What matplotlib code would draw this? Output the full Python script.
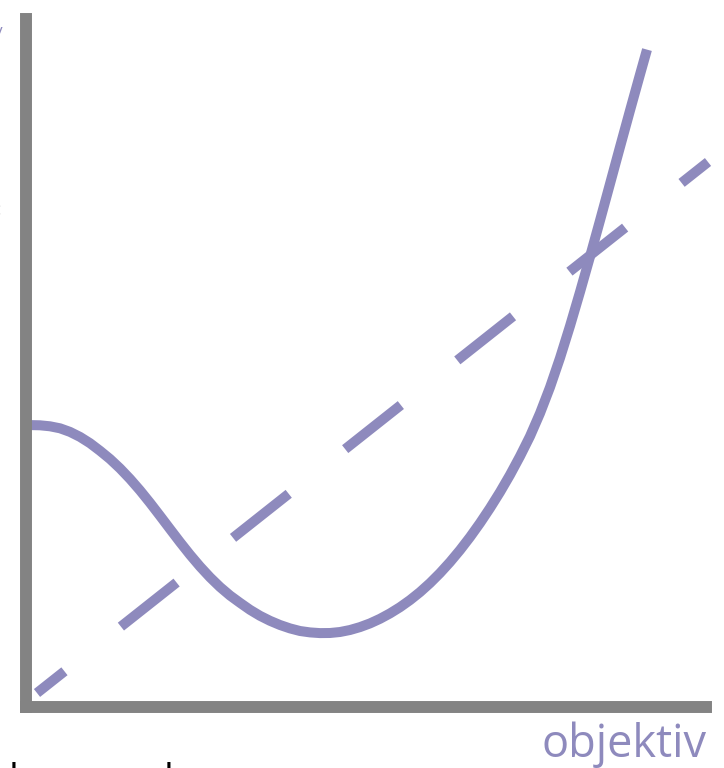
import matplotlib
matplotlib.use("Agg")
import matplotlib.pyplot as plt

# ---- data (arbitrary units) ----
curve_x = [0.0, 1.4, 2.4, 3.4, 4.4, 5.4, 6.4, 7.4, 8.4, 9.4, 10.4, 11.4, 12.4,
           13.4, 14.4, 15.4, 16.4, 17.4, 18.4, 19.4, 20.4, 21.4, 22.4, 23.4,
           24.4, 25.4, 26.4, 27.4, 28.4, 29.4, 30.4, 31.4, 32.4, 33.4, 34.4,
           35.4, 36.4, 37.4, 38.4, 39.4, 40.4, 41.4, 42.4, 43.4, 44.4, 45.4,
           46.4, 47.4, 48.4, 49.4, 50.4, 51.4, 52.4, 53.4, 54.4, 55.4, 56.4,
           57.4, 58.4, 59.4, 60.4, 61.4, 62.1]
curve_y = [28.20, 28.17, 28.07, 27.87, 27.51, 27.01, 26.38, 25.62, 24.80, 23.86,
           22.81, 21.66, 20.42, 19.12, 17.80, 16.49, 15.23, 14.05, 12.97, 12.00,
           11.15, 10.42, 9.72, 9.12, 8.62, 8.20, 7.86, 7.60, 7.46, 7.39, 7.40,
           7.50, 7.70, 7.99, 8.36, 8.82, 9.36, 9.98, 10.69, 11.49, 12.39, 13.39,
           14.49, 15.69, 16.99, 18.39, 19.89, 21.49, 23.21, 25.07, 27.07, 29.37,
           31.97, 34.90, 38.10, 41.50, 45.03, 48.65, 52.32, 56.00, 59.65, 63.25,
           65.74]
dash_x = [1.1, 68.2]
dash_y = [1.4, 54.5]
x_label = "objektiv"
y_label = "subjektiv"

PURPLE = "#8e8abd"
GRAY = "#838383"
W, H = 724, 768

fig = plt.figure(figsize=(W / 100, H / 100), dpi=100)
ax = fig.add_axes([26 / W, 61 / H, 680 / W, 688 / H])
ax.set_xlim(0, 68)
ax.set_ylim(0, 68.8)

lw = 7.2
ax.plot(curve_x, curve_y, color=PURPLE, lw=lw, solid_capstyle="butt",
        solid_joinstyle="round", zorder=2)
ax.plot(dash_x, dash_y, color=PURPLE, lw=lw, dash_capstyle="butt",
        linestyle=(3.6, (7.1, 7.2)), clip_on=False, zorder=2)

for s in ("top", "right"):
    ax.spines[s].set_visible(False)
for s in ("left", "bottom"):
    ax.spines[s].set_color(GRAY)
    ax.spines[s].set_linewidth(8.6)
    ax.spines[s].set_zorder(3)
ax.set_xticks([])
ax.set_yticks([])

fam = ["Open Sans", "DejaVu Sans"]
fig.text(707 / W, (H - 757) / H, x_label, color=PURPLE, fontsize=32.5,
         family=fam, ha="right", va="baseline")
# texts cut off at the edges of the picture
fig.text(3 / W, (H - 36) / H, y_label, color=PURPLE, fontsize=12,
         family=fam, ha="right", va="baseline")
fig.text(2 / W, (H - 215) / H, "nytte:", color="black", fontsize=14,
         family=fam, ha="right", va="baseline")
fig.text(9 / W, (H - 791) / H, "lav", color="black", fontsize=28,
         family=fam, ha="left", va="baseline")
fig.text(164 / W, (H - 791) / H, "hav", color="black", fontsize=28,
         family=fam, ha="left", va="baseline")

fig.savefig("out.png", dpi=100)
